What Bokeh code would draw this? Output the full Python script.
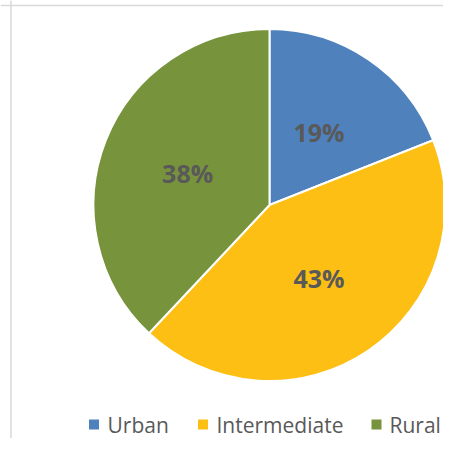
import numpy as np

from bokeh.core.properties import value
from bokeh.embed import file_html
from bokeh.models import ColumnDataSource, Range1d, Span
from bokeh.plotting import figure
from bokeh.resources import INLINE

# Data
categories = ["Urban", "Intermediate", "Rural"]
shares = [19, 43, 38]
colors = ["#4F81BD", "#FDBF14", "#77933C"]

# Pie geometry (1 data unit = 1 px; y is measured up from the page bottom)
cx, cy, r = 269, 249.5, 176

fracs = np.array(shares) / sum(shares)
ends = np.cumsum(fracs)
starts = ends - fracs
start_angle = np.pi / 2 - starts * 2 * np.pi
end_angle = np.pi / 2 - ends * 2 * np.pi
mid = (start_angle + end_angle) / 2

src = ColumnDataSource(dict(
    cat=categories,
    start=start_angle,
    end=end_angle,
    color=colors,
    label=[f"{s}%" for s in shares],
    lx=cx + 0.5 * r * np.cos(mid),
    ly=cy + 0.5 * r * np.sin(mid),
))

p = figure(width=443, height=438, output_backend="svg", toolbar_location=None,
           x_range=Range1d(0, 443), y_range=Range1d(16, 454),
           min_border=0, tools="")
p.axis.visible = False
p.grid.visible = False
p.outline_line_color = None
p.background_fill_color = "white"

# chart frame (left and top edges only are visible)
p.add_layout(Span(location=10.5, dimension="height", line_color="#D9D9D9", line_width=1.5))
p.add_layout(Span(location=449, dimension="width", line_color="#D9D9D9", line_width=1.5))

p.wedge(x=cx, y=cy, radius=r, start_angle="start", end_angle="end",
        direction="clock", fill_color="color", line_color="white", line_width=2,
        source=src)

p.text(x="lx", y="ly", text="label", source=src,
       text_font=value("Open Sans"), text_font_style="bold", text_font_size="25px",
       text_color="#595959", text_align="center", text_baseline="middle")

# legend along the bottom
leg_sq_x = [93.5, 202.5, 376]
leg_txt_x = [107, 216, 389]
leg = ColumnDataSource(dict(sx=leg_sq_x, tx=leg_txt_x, cat=categories, color=colors))
p.scatter(x="sx", y=30, marker="square", size=10, fill_color="color",
          line_color=None, source=leg)
p.text(x="tx", y=30, text="cat", source=leg,
       text_font=value("Open Sans"), text_font_size="21px",
       text_color="#595959", text_align="left", text_baseline="middle")

open("out.html", "w").write(file_html(p, INLINE))
